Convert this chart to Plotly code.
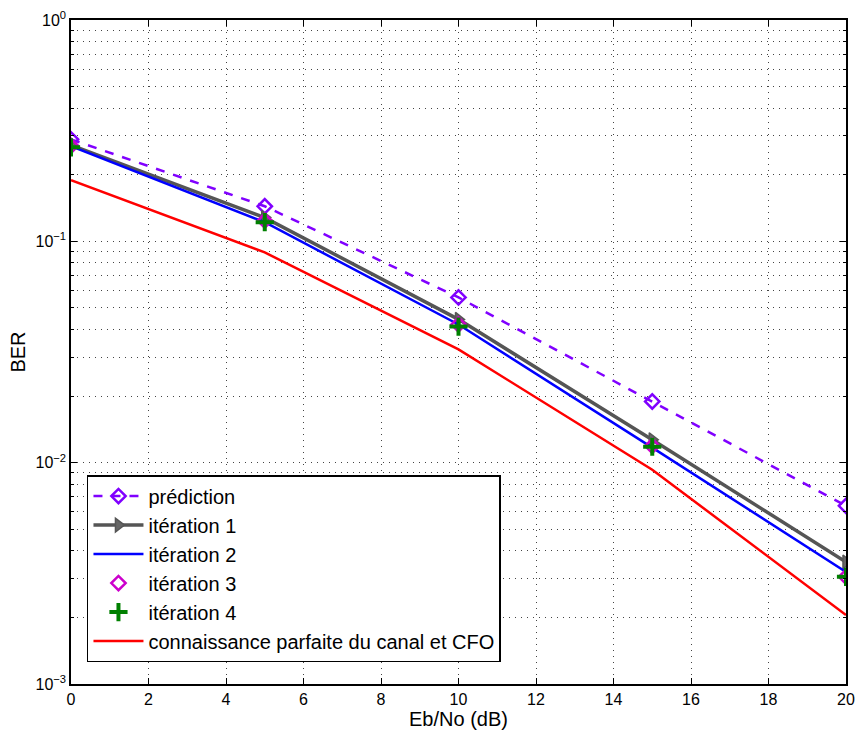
import plotly.graph_objects as go

ebno = [0, 5, 10, 15, 20]
prediction = [0.289, 0.144, 0.0558, 0.0189, 0.00638]
iter1 = [0.272, 0.128, 0.0444, 0.0127, 0.00356]
iter2 = [0.269, 0.122, 0.0421, 0.0117, 0.00321]
iter3 = [0.270, 0.124, 0.0421, 0.0119, 0.00305]
iter4 = [0.266, 0.122, 0.0412, 0.0118, 0.00305]
perfect = [0.189, 0.0891, 0.0325, 0.00929, 0.00205]

x_ticks = list(range(0, 21, 2))
y_tickvals = [1e-3, 1e-2, 1e-1, 1]
y_ticktext = ["10<sup>\u22123</sup>", "10<sup>\u22122</sup>", "10<sup>\u22121</sup>", "10<sup>0</sup>"]

fig = go.Figure()
fig.add_trace(go.Scatter(x=ebno, y=prediction, mode="lines+markers", name="prédiction",
                         line=dict(color="#8000ff", width=2.5, dash="dash"),
                         marker=dict(symbol="diamond-open", size=11, color="#8000ff", line=dict(width=2.5))))
fig.add_trace(go.Scatter(x=ebno, y=iter1, mode="lines+markers", name="itération 1",
                         line=dict(color="#555555", width=3.5),
                         marker=dict(symbol="triangle-right", size=12, color="#666666",
                                     line=dict(color="#555555", width=1.5))))
fig.add_trace(go.Scatter(x=ebno, y=iter2, mode="lines", name="itération 2",
                         line=dict(color="#0000ff", width=2.5)))
fig.add_trace(go.Scatter(x=ebno, y=iter3, mode="markers", name="itération 3",
                         marker=dict(symbol="diamond-open", size=11, color="#cc00cc", line=dict(width=2.5))))
fig.add_trace(go.Scatter(x=ebno, y=iter4, mode="markers", name="itération 4",
                         marker=dict(symbol="cross-thin-open", size=13, color="#008000",
                                     line=dict(width=4, color="#008000"))))
fig.add_trace(go.Scatter(x=ebno, y=perfect, mode="lines", name="connaissance parfaite du canal et CFO",
                         line=dict(color="#ff0000", width=2.5)))

grid = dict(showgrid=True, gridcolor="#444444", griddash="1px,5px", gridwidth=1)
fig.update_xaxes(range=[0, 20], tickvals=x_ticks, ticks="inside", ticklen=6, tickcolor="black",
                 showline=True, linecolor="black", linewidth=1.5, mirror="ticks", zeroline=False,
                 automargin=False,
                 title=dict(text="Eb/No (dB)", font=dict(size=20), standoff=2),
                 tickfont=dict(size=16), **grid)
fig.update_yaxes(type="log", range=[-3, 0], tickvals=y_tickvals, ticktext=y_ticktext,
                 ticks="inside", ticklen=6, tickcolor="black",
                 showline=True, linecolor="black", linewidth=1.5, mirror="ticks", zeroline=False,
                 automargin=False,
                 title=dict(text="BER", font=dict(size=20), standoff=4),
                 tickfont=dict(size=16),
                 minor=dict(dtick="D1", ticks="inside", ticklen=3, tickcolor="black", showgrid=True,
                            gridcolor="#444444", griddash="1px,5px", gridwidth=1),
                 **grid)

fig.update_layout(
    width=858, height=735,
    margin=dict(l=71, r=12, t=20, b=51),
    paper_bgcolor="white", plot_bgcolor="white",
    font=dict(family="Liberation Sans, Arial, sans-serif", color="black", size=16),
    legend=dict(x=0.0206, y=0.033, xanchor="left", yanchor="bottom",
                bgcolor="white", bordercolor="black", borderwidth=1.5,
                font=dict(size=20), tracegroupgap=0, itemwidth=50),
    showlegend=True,
)

fig.write_html("out.html")
